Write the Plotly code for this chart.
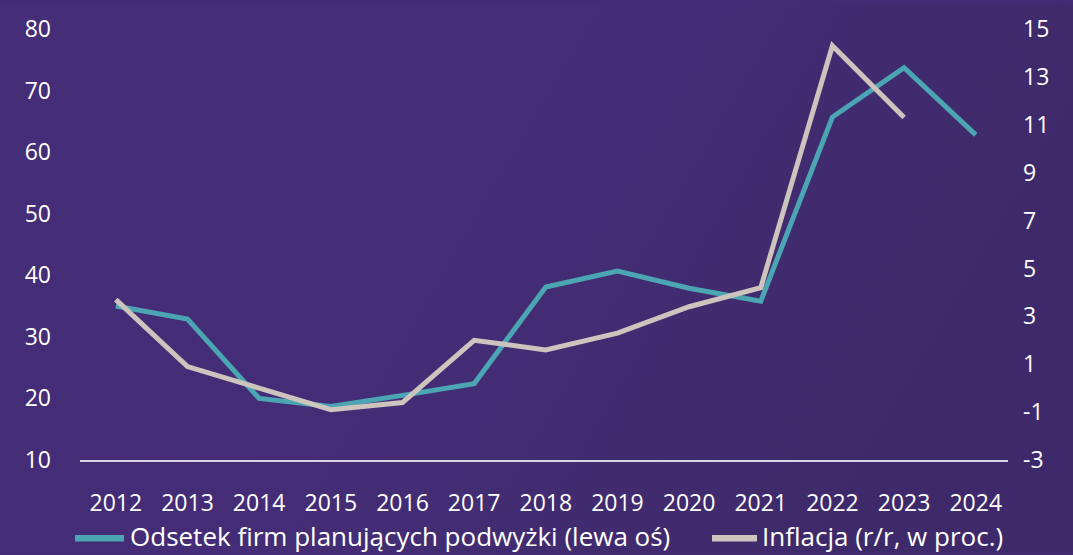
import plotly.graph_objects as go
import base64

years = [2012, 2013, 2014, 2015, 2016, 2017, 2018, 2019, 2020, 2021, 2022, 2023, 2024]
firms_share = [35.0, 32.9, 20.0, 18.7, 20.5, 22.4, 38.1, 40.7, 37.9, 35.8, 65.7, 73.7, 62.8]
infl_years = [2012, 2013, 2014, 2015, 2016, 2017, 2018, 2019, 2020, 2021, 2022, 2023]
inflation = [3.7, 0.9, 0.0, -0.9, -0.6, 2.0, 1.6, 2.3, 3.4, 4.2, 14.3, 11.3]
left_ticks = [10, 20, 30, 40, 50, 60, 70, 80]
right_ticks = [-3, -1, 1, 3, 5, 7, 9, 11, 13, 15]
right_tick_text = ["-3", "-1", "1", "3", "5", "7", "9", "11", "13", "15"]
name_firms = "Odsetek firm planujących podwyżki (lewa oś)"
name_infl = "Inflacja (r/r, w proc.)"

TEAL = "#4ba5b3"
BEIGE = "#cdc4be"
BG = "#432c74"
FONT = "Open Sans"

W, H = 1073, 555
ML, MR, MT, MB = 80, 65, 25, 95
PW, PH = W - ML - MR, H - MT - MB

svg = ('<svg xmlns="http://www.w3.org/2000/svg" width="1073" height="555">'
       '<defs><linearGradient id="g" x1="0" y1="0" x2="1" y2="0.3">'
       '<stop offset="0" stop-color="#452d78"/><stop offset="0.5" stop-color="#442d76"/>'
       '<stop offset="1" stop-color="#3e2a6a"/></linearGradient></defs>'
       '<rect width="1073" height="555" fill="url(#g)"/></svg>')
bg_src = "data:image/svg+xml;base64," + base64.b64encode(svg.encode()).decode()

def px(x):
    return (x - ML) / PW

def py(y):
    return (H - MB - y) / PH

fig = go.Figure()
fig.add_trace(go.Scatter(x=years, y=firms_share, name=name_firms, mode="lines",
                         line=dict(color=TEAL, width=5), yaxis="y"))
fig.add_trace(go.Scatter(x=infl_years, y=inflation, name=name_infl, mode="lines",
                         line=dict(color=BEIGE, width=5), yaxis="y2"))

# manual legend (long line swatches like the reference)
legend_items = [(name_firms, TEAL, 75, 124, 128), (name_infl, BEIGE, 712, 757, 760)]
shapes = []
annotations = []
for name, col, x0, x1, tx in legend_items:
    shapes.append(dict(type="line", xref="paper", yref="paper", x0=px(x0), x1=px(x1),
                       y0=py(539), y1=py(539), line=dict(color=col, width=6.5)))
    annotations.append(dict(text=name, xref="paper", yref="paper", x=px(tx), y=py(537),
                            xanchor="left", yanchor="middle", showarrow=False,
                            font=dict(size=26, color="white", family=FONT)))

fig.update_layout(
    width=W, height=H,
    paper_bgcolor=BG, plot_bgcolor="rgba(0,0,0,0)",
    margin=dict(l=ML, r=MR, t=MT, b=MB),
    font=dict(family=FONT, color="white", size=23),
    images=[dict(source=bg_src, xref="paper", yref="paper", x=-ML / PW, y=1 + MT / PH,
                 sizex=W / PW, sizey=H / PH, sizing="stretch", layer="below",
                 xanchor="left", yanchor="top")],
    xaxis=dict(range=[2011.5, 2024.45], tickmode="array", tickvals=years,
               ticktext=[str(y) for y in years], showgrid=False, zeroline=False,
               showline=True, linecolor="#d8d4e2", linewidth=1.5, ticks="",
               ticklabelstandoff=22, tickfont=dict(size=23)),
    yaxis=dict(range=[10, 80], tickvals=left_ticks, showgrid=False, zeroline=False,
               showline=False, ticks="", ticklabelstandoff=28, tickfont=dict(size=23)),
    yaxis2=dict(range=[-3, 15], tickmode="array", tickvals=right_ticks,
                ticktext=right_tick_text, overlaying="y", side="right",
                showgrid=False, zeroline=False, showline=False, ticks="",
                ticklabelstandoff=14, tickfont=dict(size=23)),
    shapes=shapes,
    annotations=annotations,
    showlegend=False,
)

fig.write_html("out.html", config={"displayModeBar": False},
               post_script="document.body.style.margin='0';")
